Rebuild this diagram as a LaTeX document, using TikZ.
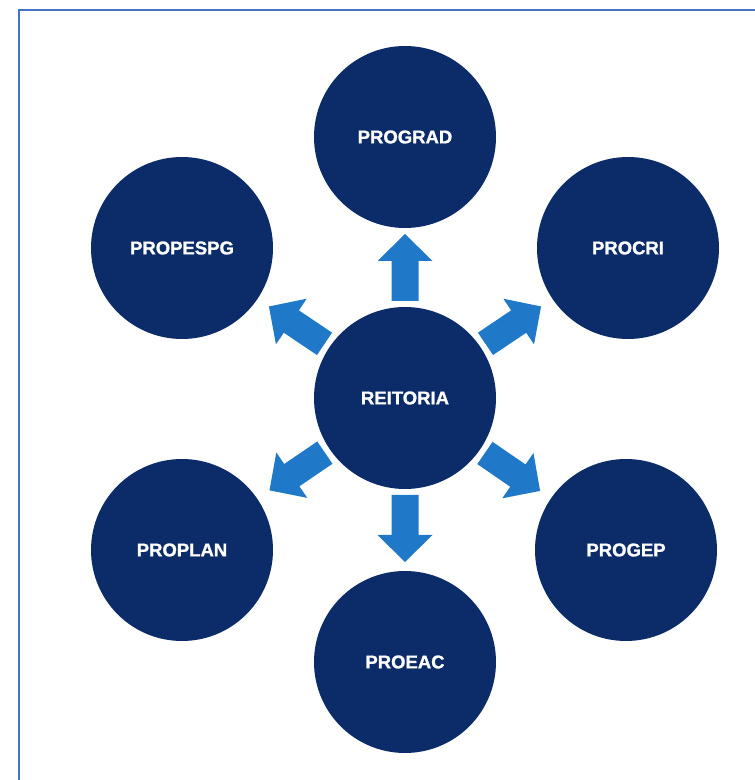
\documentclass[tikz,border=0pt]{standalone}
\usepackage{fontspec}
\setmainfont{Liberation Sans}[BoldFeatures={FakeBold=1.2}]
\usetikzlibrary{calc}
\definecolor{navy}{HTML}{0C2C69}
\definecolor{arrowblue}{HTML}{1F78C8}
\definecolor{frameblue}{HTML}{4472C4}
\tikzset{
  unit/.style={circle,fill=navy,draw=none,inner sep=0pt,minimum size=182pt,
    text=white,font=\fontsize{18.5}{20}\selectfont\bfseries},
  frame/.style={draw=frameblue,line width=2.5pt},
  blockarr/.pic={
    \fill[arrowblue] (0,-13.5) -- (40,-13.5) -- (40,-27.5) -- (67,0)
      -- (40,27.5) -- (40,13.5) -- (0,13.5) -- cycle;
  }
}
\begin{document}
\begin{tikzpicture}[x=1pt,y=1pt]
\useasboundingbox (0,0) rectangle (755,780);
\coordinate (ftop) at (755,770);
\coordinate (fcorner) at (19,770);
\coordinate (fbottom) at (19,0);
\draw[frame] (ftop) -- (fcorner) -- (fbottom);
\node[unit] (reit) at (405,382) {REITORIA};
\node[unit] (prograd) at (405,643) {PROGRAD};
\node[unit] (propespg) at (182,532) {PROPESPG};
\node[unit] (procri) at (628,532) {PROCRI};
\node[unit] (proplan) at (182,230) {PROPLAN};
\node[unit] (progep) at (626,230) {PROGEP};
\node[unit] (proeac) at (405,118) {PROEAC};
\foreach \t in {prograd,propespg,procri,proplan,progep,proeac}{
  \path let \p1=($(\t.center)-(reit.center)$), \n1={atan2(\y1,\x1)} in
    ($(reit.center)!97pt!(\t.center)$) pic[rotate=\n1]{blockarr};
}
\end{tikzpicture}
\end{document}
